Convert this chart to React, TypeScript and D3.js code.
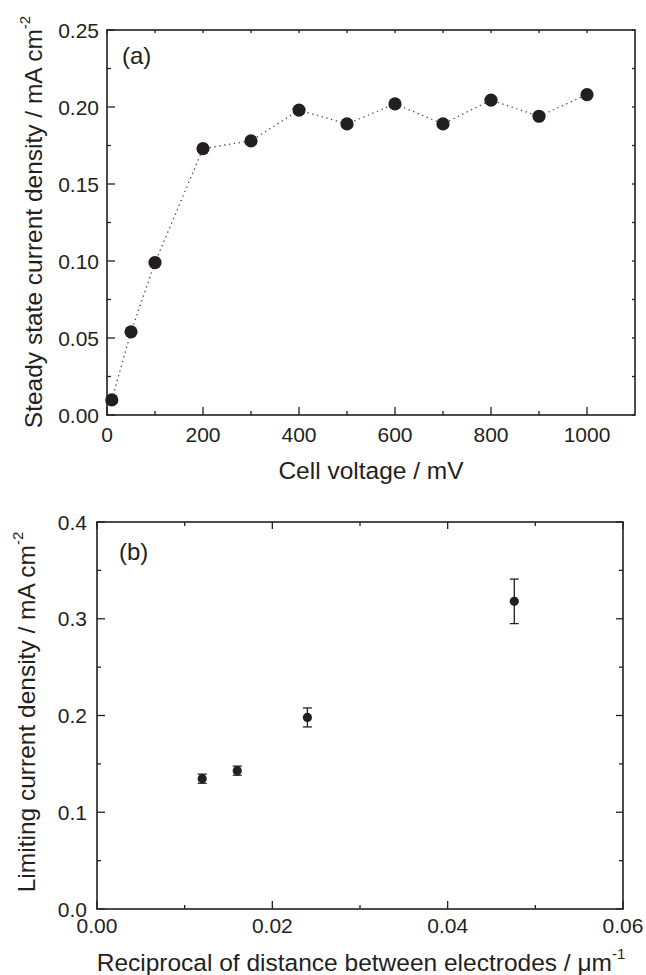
import React from 'react'
import * as d3 from 'd3'

// panel (a): steady state current vs cell voltage
const voltage = [10, 50, 100, 200, 300, 400, 500, 600, 700, 800, 900, 1000]
const steadyCurrent = [0.0098, 0.054, 0.099, 0.173, 0.178, 0.198, 0.189, 0.202, 0.189, 0.2045, 0.194, 0.208]
const voltageTicks = [0, 200, 400, 600, 800, 1000]
const steadyTicks = [0, 0.05, 0.1, 0.15, 0.2, 0.25]

// panel (b): limiting current vs reciprocal electrode distance
const reciprocalDistance = [0.012, 0.016, 0.024, 0.0476]
const limitingCurrent = [0.1347, 0.143, 0.198, 0.318]
const limitingError = [0.0047, 0.0047, 0.0098, 0.023]
const reciprocalTicks = [0, 0.02, 0.04, 0.06]
const limitingTicks = [0, 0.1, 0.2, 0.3, 0.4]

const ink = '#231f20'
const font = '"Liberation Sans", Arial, Helvetica, sans-serif'

type TickSpec = {
  major: number[]
  minor: number[]
  fmt: (v: number) => string
}

const Frame = ({ x, y, xt, yt, mirrorMajor, mirrorMinor, yLabelGap, xLabelDrop }: any) => {
  const [x0, x1] = x.range()
  const [y0, y1] = y.range() // y0 bottom, y1 top
  const els: any[] = []
  xt.major.forEach((v: number, i: number) => {
    const px = x(v)
    els.push(<line key={'xb' + i} x1={px} x2={px} y1={y0} y2={y0 - 8} />)
    els.push(<line key={'xt' + i} x1={px} x2={px} y1={y1} y2={y1 + mirrorMajor} />)
  })
  xt.minor.forEach((v: number, i: number) => {
    const px = x(v)
    els.push(<line key={'xbm' + i} x1={px} x2={px} y1={y0} y2={y0 - 4} />)
    els.push(<line key={'xtm' + i} x1={px} x2={px} y1={y1} y2={y1 + mirrorMinor} />)
  })
  yt.major.forEach((v: number, i: number) => {
    const py = y(v)
    els.push(<line key={'yl' + i} x1={x0} x2={x0 + 8} y1={py} y2={py} />)
    els.push(<line key={'yr' + i} x1={x1} x2={x1 - mirrorMajor} y1={py} y2={py} />)
  })
  yt.minor.forEach((v: number, i: number) => {
    const py = y(v)
    els.push(<line key={'ylm' + i} x1={x0} x2={x0 + 4} y1={py} y2={py} />)
    els.push(<line key={'yrm' + i} x1={x1} x2={x1 - mirrorMinor} y1={py} y2={py} />)
  })
  return (
    <g>
      <g stroke={ink} strokeWidth={1.3}>{els}</g>
      <rect x={x0} y={y1} width={x1 - x0} height={y0 - y1} fill="none" stroke={ink} strokeWidth={1.6} />
      <g fontSize={21} fill={ink} fontFamily={font}>
        {xt.major.map((v: number, i: number) => (
          <text key={'lx' + i} x={x(v)} y={y0 + xLabelDrop} textAnchor="middle">
            {xt.fmt(v)}
          </text>
        ))}
        {yt.major.map((v: number, i: number) => (
          <text key={'ly' + i} x={x0 - yLabelGap} y={y(v) + 7.5} textAnchor="end">
            {yt.fmt(v)}
          </text>
        ))}
      </g>
    </g>
  )
}

const App = () => {
  // panel (a) scales
  const xA = d3.scaleLinear().domain([0, 1100]).range([107, 635])
  const yA = d3.scaleLinear().domain([0, 0.25]).range([415, 30])
  // panel (b) scales
  const xB = d3.scaleLinear().domain([0, 0.06]).range([97, 623])
  const yB = d3.scaleLinear().domain([0, 0.4]).range([909, 522])

  const lineA = d3
    .line<number>()
    .x((_, i) => xA(voltage[i]))
    .y((d) => yA(d))

  const f2 = d3.format('.2f')
  const f1 = d3.format('.1f')

  const ticksA_x: TickSpec = {
    major: voltageTicks,
    minor: d3.range(100, 1100, 200),
    fmt: (v) => String(v),
  }
  const ticksA_y: TickSpec = {
    major: steadyTicks,
    minor: d3.range(0.025, 0.25, 0.05),
    fmt: f2,
  }
  const ticksB_x: TickSpec = {
    major: reciprocalTicks,
    minor: [0.01, 0.03, 0.05],
    fmt: f2,
  }
  const ticksB_y: TickSpec = {
    major: limitingTicks,
    minor: [0.05, 0.15, 0.25, 0.35],
    fmt: f1,
  }

  return (
    <svg
      width={646}
      height={975}
      style={{ position: 'absolute', left: 0, top: 0, background: '#fff' }}
      fontFamily={font}
    >
      {/* panel (a) */}
      <Frame x={xA} y={yA} xt={ticksA_x} yt={ticksA_y} mirrorMajor={3} mirrorMinor={3} yLabelGap={8} xLabelDrop={27} />
      <path
        d={lineA(steadyCurrent) || ''}
        fill="none"
        stroke="#444"
        strokeWidth={1.3}
        strokeDasharray="1.3 3.6"
      />
      {steadyCurrent.map((v, i) => (
        <circle key={'a' + i} cx={xA(voltage[i])} cy={yA(v)} r={6.6} fill={ink} />
      ))}
      <text x={122} y={64} fontSize={24} fill={ink}>(a)</text>
      <text x={371} y={479} fontSize={24.5} fill={ink} textAnchor="middle">
        Cell voltage / mV
      </text>
      <text transform="translate(42,222) rotate(-90)" fontSize={24.5} fill={ink} textAnchor="middle">
        Steady state current density / mA cm
        <tspan fontSize={15} dy={-12}>-2</tspan>
      </text>

      {/* panel (b) */}
      <Frame x={xB} y={yB} xt={ticksB_x} yt={ticksB_y} mirrorMajor={7} mirrorMinor={4} yLabelGap={10} xLabelDrop={24} />
      <g stroke={ink} strokeWidth={1.3}>
        {limitingCurrent.map((v, i) => {
          const cx = xB(reciprocalDistance[i])
          const hi = yB(v + limitingError[i])
          const lo = yB(v - limitingError[i])
          return (
            <g key={'e' + i}>
              <line x1={cx} x2={cx} y1={hi} y2={lo} />
              <line x1={cx - 4.5} x2={cx + 4.5} y1={hi} y2={hi} />
              <line x1={cx - 4.5} x2={cx + 4.5} y1={lo} y2={lo} />
            </g>
          )
        })}
      </g>
      {limitingCurrent.map((v, i) => (
        <circle key={'b' + i} cx={xB(reciprocalDistance[i])} cy={yB(v)} r={4.6} fill={ink} />
      ))}
      <text x={119} y={560} fontSize={24} fill={ink}>(b)</text>
      <text x={361} y={971} fontSize={24.5} fill={ink} textAnchor="middle">
        Reciprocal of distance between electrodes / μm
        <tspan fontSize={15} dy={-12}>-1</tspan>
      </text>
      <text transform="translate(35,712) rotate(-90)" fontSize={24.5} fill={ink} textAnchor="middle">
        Limiting current density / mA cm
        <tspan fontSize={15} dy={-12}>-2</tspan>
      </text>
    </svg>
  )
}

export default App
